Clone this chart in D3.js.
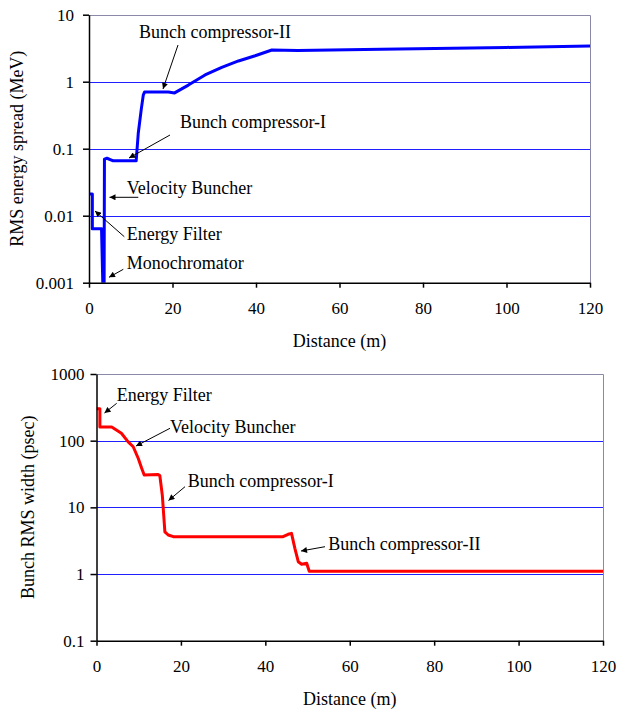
<!DOCTYPE html>
<html><head><meta charset="utf-8">
<script src="https://cdn.jsdelivr.net/npm/d3@7/dist/d3.min.js"></script>
<style>
html,body{margin:0;padding:0;background:#fff;}
svg text{font-family:"Liberation Serif","Times New Roman",serif;fill:#000;}
</style></head>
<body>
<svg id="chart" width="619" height="710"></svg>
<script>
// ---------- data ----------
const xTickValues = [0, 20, 40, 60, 80, 100, 120];

// Top chart: RMS energy spread (MeV) vs distance (m)
const spreadDistance = [0, 0.8, 0.8, 3.0, 3.5, 3.6, 3.7, 4.3, 5.8, 11.3, 11.8, 12.5, 13.0, 13.3, 19.0, 20.5, 23.8, 27.8, 31.8, 35.8, 39.8, 43.8, 50, 70, 100, 120];
const spreadValue    = [0.021, 0.021, 0.0064, 0.0064, 0.0003, 0.0003, 0.070, 0.072, 0.066, 0.066, 0.17, 0.38, 0.63, 0.70, 0.70, 0.68, 0.89, 1.26, 1.64, 2.04, 2.44, 2.97, 2.93, 3.05, 3.25, 3.40];
const spreadTicks = [0.001, 0.01, 0.1, 1, 10];
const spreadTickLabels = ["0.001", "0.01", "0.1", "1", "10"];

// Bottom chart: bunch RMS width (psec) vs distance (m)
const widthDistance = [0, 0.8, 0.8, 3.6, 5.9, 7.5, 8.7, 9.9, 10.7, 11.3, 14.6, 15.0, 15.6, 16.2, 17.0, 18.2, 44.2, 45.4, 46.2, 47.0, 47.8, 48.6, 49.8, 50.4, 120];
const widthValue    = [300, 300, 160, 160, 129, 96, 81, 54, 38.5, 30.5, 31, 30, 15, 4.3, 3.85, 3.63, 3.63, 3.94, 4.07, 2.43, 1.53, 1.40, 1.45, 1.10, 1.10];
const widthTicks = [0.1, 1, 10, 100, 1000];
const widthTickLabels = ["0.1", "1", "10", "100", "1000"];

const topNotes = ["Bunch compressor-II", "Bunch compressor-I", "Velocity Buncher", "Energy Filter", "Monochromator"];
const bottomNotes = ["Energy Filter", "Velocity Buncher", "Bunch compressor-I", "Bunch compressor-II"];

// ---------- layout ----------
const svg = d3.select("#chart");
svg.append("defs").append("marker")
  .attr("id", "arrow").attr("viewBox", "0 0 10 10")
  .attr("refX", 10).attr("refY", 5)
  .attr("markerWidth", 7).attr("markerHeight", 6)
  .attr("markerUnits", "userSpaceOnUse")
  .attr("orient", "auto")
  .append("path").attr("d", "M0,0 L10,5 L0,10 Z").attr("fill", "#000");

const SERIF = '"Liberation Serif","Times New Roman",serif';

function drawPanel(cfg) {
  const x = d3.scaleLinear().domain([0, 120]).range([cfg.left, cfg.right]);
  const y = d3.scaleLog().domain([cfg.ticks[0], cfg.ticks[cfg.ticks.length - 1]]).range([cfg.bottom, cfg.top]);
  const g = svg.append("g");
  const clipId = "clip" + cfg.id;
  svg.select("defs").append("clipPath").attr("id", clipId)
    .append("rect").attr("x", cfg.left).attr("y", cfg.top - 2)
    .attr("width", cfg.right - cfg.left + 2).attr("height", cfg.bottom - cfg.top + 2);

  // gridlines
  g.append("g").selectAll("line").data(cfg.ticks.slice(1, -1)).join("line")
    .attr("x1", cfg.left).attr("x2", cfg.right)
    .attr("y1", d => Math.round(y(d)) + 0.5).attr("y2", d => Math.round(y(d)) + 0.5)
    .attr("stroke", "#2020ff").attr("stroke-width", 1);
  // frame top/right
  g.append("path")
    .attr("d", `M${cfg.left},${Math.round(cfg.top) + 0.5}H${Math.round(cfg.right) + 0.5}V${cfg.bottom}`)
    .attr("fill", "none").attr("stroke", "#8a8aa8").attr("stroke-width", 1);

  // series
  const pts = cfg.dist.map((d, i) => [d, cfg.vals[i]]);
  g.append("path").datum(pts)
    .attr("clip-path", `url(#${clipId})`)
    .attr("d", d3.line().x(d => x(d[0])).y(d => y(d[1])))
    .attr("fill", "none").attr("stroke", cfg.color).attr("stroke-width", 3)
    .attr("stroke-linejoin", "round");

  // axes
  const xAxis = d3.axisBottom(x).tickValues(xTickValues).tickSize(5).tickSizeOuter(0).tickFormat(d3.format("d"));
  const xa = g.append("g").attr("transform", `translate(0,${cfg.bottom})`).call(xAxis);
  xa.attr("font-family", null);
  xa.select(".domain").attr("stroke", "#000").attr("stroke-width", 1.5);
  xa.selectAll(".tick line").attr("stroke", "#000").attr("stroke-width", 1.5);
  xa.selectAll(".tick text").attr("font-size", 17).style("font-family", SERIF).attr("dy", 0).attr("y", 31);

  const yAxis = d3.axisLeft(y).tickValues(cfg.ticks).tickSize(6).tickSizeOuter(0)
    .tickFormat((d, i) => cfg.labels[i]);
  const ya = g.append("g").attr("transform", `translate(${cfg.left},0)`).call(yAxis);
  ya.attr("font-family", null);
  ya.select(".domain").attr("stroke", "#000").attr("stroke-width", 1.5);
  ya.selectAll(".tick line").attr("stroke", "#000").attr("stroke-width", 1.5);
  ya.selectAll(".tick text").attr("font-size", 17).style("font-family", SERIF).attr("x", -cfg.labelGap).attr("dy", "0.33em");

  // axis titles
  g.append("text").attr("x", (cfg.left + cfg.right) / 2).attr("y", cfg.bottom + 64)
    .attr("text-anchor", "middle").attr("font-size", 18).style("font-family", SERIF).text("Distance (m)");
  g.append("text").attr("transform", `translate(${cfg.titleX},${(cfg.top + cfg.bottom) / 2}) rotate(-90)`)
    .attr("text-anchor", "middle").attr("font-size", 18).style("font-family", SERIF).text(cfg.title);

  // annotations
  cfg.notes.forEach((t, i) => {
    const n = cfg.notePos[i];
    g.append("text").attr("x", n.tx).attr("y", n.ty).attr("font-size", 18).style("font-family", SERIF).text(t);
    g.append("line").attr("x1", n.ax1).attr("y1", n.ay1).attr("x2", n.ax2).attr("y2", n.ay2)
      .attr("stroke", "#000").attr("stroke-width", 1).attr("marker-end", "url(#arrow)");
  });
}

drawPanel({
  id: "top", left: 89, right: 590, top: 14.7, bottom: 282.7,
  ticks: spreadTicks, labels: spreadTickLabels, labelGap: 15,
  dist: spreadDistance, vals: spreadValue, color: "#0000ff",
  title: "RMS energy spread (MeV)", titleX: 23,
  notes: topNotes,
  notePos: [
    {tx: 139, ty: 38, ax1: 178, ay1: 45, ax2: 163, ay2: 89},
    {tx: 180, ty: 128, ax1: 170, ay1: 135, ax2: 129, ay2: 158},
    {tx: 126.7, ty: 194, ax1: 138.3, ay1: 197.3, ax2: 109.5, ay2: 197.3},
    {tx: 126.7, ty: 239.5, ax1: 124.3, ay1: 236.7, ax2: 95, ay2: 211},
    {tx: 126.7, ty: 269, ax1: 123.3, ay1: 269.3, ax2: 109, ay2: 277.3}
  ]
});

drawPanel({
  id: "bot", left: 96.5, right: 603, top: 374, bottom: 640.7,
  ticks: widthTicks, labels: widthTickLabels, labelGap: 12,
  dist: widthDistance, vals: widthValue, color: "#ff0000",
  title: "Bunch RMS width (psec)", titleX: 34,
  notes: bottomNotes,
  notePos: [
    {tx: 116.7, ty: 400.5, ax1: 116.7, ay1: 403.3, ax2: 104.5, ay2: 413},
    {tx: 170, ty: 433, ax1: 170, ay1: 428.3, ax2: 136, ay2: 446},
    {tx: 187.7, ty: 487, ax1: 185, ay1: 486.7, ax2: 168.5, ay2: 500.5},
    {tx: 328.3, ty: 549.5, ax1: 325, ay1: 546.7, ax2: 301, ay2: 551}
  ]
});
</script>
</body></html>
